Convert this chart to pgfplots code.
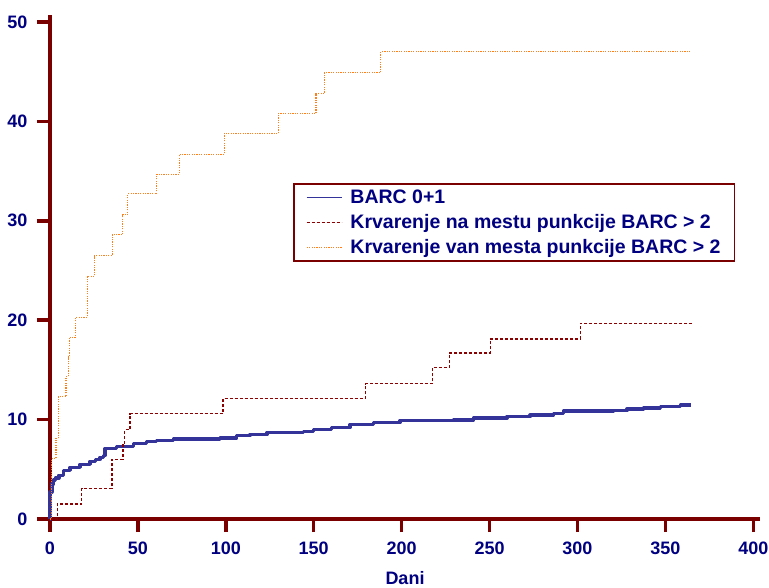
\documentclass[border=0pt]{standalone}
\usepackage{pgfplots}
\pgfplotsset{compat=1.18}
\usepackage{fontspec}
\setmainfont{Liberation Sans}
\definecolor{axred}{HTML}{7A0000}
\definecolor{navytxt}{HTML}{000080}
\definecolor{barcblue}{HTML}{333399}
\definecolor{darkred}{HTML}{8B0000}
\definecolor{orangeln}{HTML}{FF7F1A}
\begin{document}
\begin{tikzpicture}
\path[use as bounding box] (-50pt,-68pt) rectangle (719pt,519pt);
\begin{axis}[
  at={(0,0)}, anchor=south west,
  scale only axis, width=710pt, height=504pt,
  xmin=0, xmax=403.8, ymin=0, ymax=50.7,
  axis lines=left,
  axis line style={-, draw=axred, line width=3.5pt},
  xtick={0,50,...,400}, ytick={0,10,...,50},
  tick style={draw=axred, line width=3.5pt},
  tick align=outside, major tick length=13pt,
  /pgf/number format/assume math mode=true,
  ticklabel style={font=\fontsize{18}{20}\selectfont\bfseries, text=navytxt},
  xticklabel style={yshift=-6pt},
  yticklabel style={xshift=-6pt},
  xlabel={Dani},
  xlabel style={font=\fontsize{18}{20}\selectfont\bfseries, text=navytxt, at={(axis description cs:0.5,0)}, anchor=north, yshift=-49pt},
  clip=false,
  legend cell align=left,
  legend style={at={(axis cs:138.3,33.8)}, anchor=north west, draw=axred, line width=1.8pt,
    font=\fontsize{19.5}{22}\selectfont\bfseries, text=navytxt, inner xsep=12pt, inner ysep=4pt,
    row sep=5.5pt},
  legend image code/.code={\draw[#1, line width=1.3pt] (0pt,0pt) -- (35pt,0pt); \path (40pt,0pt);},
]
\addplot[const plot, draw=barcblue, line width=3.5pt, line join=round] coordinates {
(0,0) (0.1,2.7) (1,3.5) (2,3.9) (3,4.1) (5,4.4) (7.6,4.9) (11.4,5.2) (17.1,5.5)
(22.8,5.8) (26,6.0) (28.4,6.2) (30.3,6.4) (31.3,7.1) (37.9,7.3) (47.4,7.6)
(55,7.8) (60.7,7.9) (70.2,8.05) (96.7,8.15) (106.2,8.4) (113.8,8.5) (123.3,8.7)
(144.1,8.8) (149.8,9.0) (160,9.2) (170.7,9.5) (184,9.7) (199.1,9.9) (229.5,9.95)
(240.9,10.15) (259.9,10.3) (273.1,10.45) (286.4,10.6) (292.1,10.85) (320.5,10.9)
(328.1,11.05) (337.6,11.15) (347.1,11.3) (358.5,11.45) (364.5,11.45)
};
\addlegendentry{BARC 0+1}
\addplot[const plot, draw=darkred, line width=1.2pt, dash pattern=on 3pt off 2pt] coordinates {
(0,0) (4.2,1.5) (18,3.1) (35.3,6.0) (41.5,7.6) (42.5,9.0) (45.5,10.6) (98.4,12.1)
(179.4,13.6) (217.5,15.2) (227.2,16.7) (250.4,18.1) (301.6,19.7) (365,19.7)
};
\addlegendentry{Krvarenje na mestu punkcije BARC > 2}
\addplot[const plot, draw=orangeln, line width=1.1pt, dash pattern=on 1.2pt off 1.2pt] coordinates {
(0,0) (1,6.1) (3.4,8.1) (4.7,12.3) (9.1,14.3) (10.4,16.3) (11,18.3) (14.6,20.3)
(21.1,24.4) (25.2,26.5) (35.3,28.6) (41.4,30.6) (44.2,32.7) (60.7,34.7)
(73.6,36.7) (99.2,38.8) (129.9,40.8) (151.3,42.8) (156.1,44.9) (188.2,47.0) (364,47.0)
};
\addlegendentry{Krvarenje van mesta punkcije BARC > 2}
\end{axis}
\end{tikzpicture}
\end{document}
